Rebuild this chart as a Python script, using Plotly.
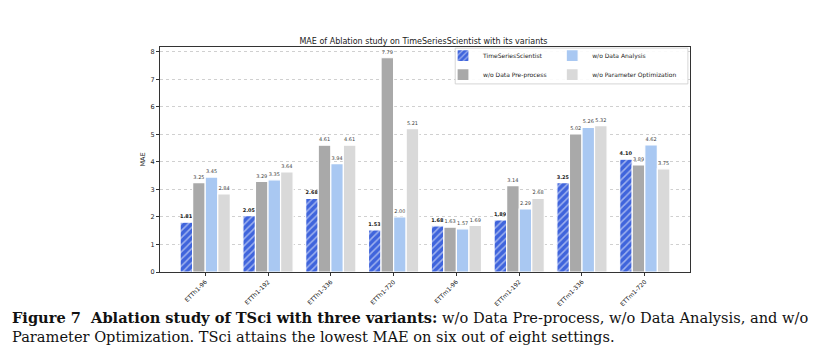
import plotly.graph_objects as go

categories = ["ETTh1-96", "ETTh1-192", "ETTh1-336", "ETTh1-720",
              "ETTm1-96", "ETTm1-192", "ETTm1-336", "ETTm1-720"]
tsci = [1.81, 2.05, 2.68, 1.53, 1.68, 1.89, 3.25, 4.10]
wo_preprocess = [3.25, 3.29, 4.61, 7.79, 1.63, 3.14, 5.02, 3.89]
wo_analysis = [3.45, 3.35, 3.94, 2.00, 1.57, 2.29, 5.26, 4.62]
wo_paramopt = [2.84, 3.64, 4.61, 5.21, 1.69, 2.68, 5.32, 3.75]
y_ticks = [0, 1, 2, 3, 4, 5, 6, 7, 8]

series = [
    ("TimeSeriesScientist", tsci, "#3f64dc", True, "legend"),
    ("w/o Data Pre-process", wo_preprocess, "#a9a9a9", False, "legend"),
    ("w/o Data Analysis", wo_analysis, "#a9c8f2", False, "legend2"),
    ("w/o Parameter Optimization", wo_paramopt, "#d9d9d9", False, "legend2"),
]

# layout geometry (plot area)
L, T, PW, PH = 152, 39, 530, 225
W, H = 831, 359

fig = go.Figure()
for name, vals, color, hatch, leg in series:
    marker = dict(color=color, line=dict(color="white", width=1.2))
    if hatch:
        marker["pattern"] = dict(shape="/", fgcolor="white", bgcolor=color,
                                 size=5, solidity=0.3)
    fig.add_trace(go.Bar(
        x=categories, y=vals, name=name, marker=marker,
        text=vals,
        texttemplate="<b>%{y:.2f}</b>" if hatch else "%{y:.2f}",
        textposition="outside", constraintext="none", cliponaxis=False,
        textfont=dict(size=5, color="#222" if hatch else "#444"),
        legend=leg,
    ))

leg_common = dict(orientation="v", yanchor="top", y=1.026, xanchor="left",
                  bgcolor="rgba(0,0,0,0)", borderwidth=0,
                  font=dict(size=6, color="#222"), itemwidth=30,
                  tracegroupgap=0)
fig.update_layout(
    width=W, height=H,
    margin=dict(l=L, r=W - L - PW, t=T, b=H - T - PH, autoexpand=False),
    paper_bgcolor="white", plot_bgcolor="white",
    barmode="group", bargap=0.2, bargroupgap=0,
    font=dict(family="DejaVu Sans", color="#222"),
    title=dict(text="MAE of Ablation study on TimeSeriesScientist with its variants",
               x=0.5, xanchor="center", y=1 - 33 / 359, yanchor="middle",
               font=dict(size=8, color="#222")),
    legend=dict(x=0.534, **leg_common),
    legend2=dict(x=0.740, **leg_common),
    showlegend=True,
)
fig.add_shape(type="rect", xref="paper", yref="paper",
              x0=0.557, x1=0.996, y0=0.836, y1=0.995, layer="above",
              fillcolor="rgba(255,255,255,0.9)", line=dict(color="#cccccc", width=0.8))
fig.update_xaxes(range=[-0.72, 7.72], tickangle=-45, tickfont=dict(size=6),
                 showline=True, linecolor="#333", linewidth=1.2, mirror=True,
                 ticks="outside", ticklen=3, tickcolor="#333", showgrid=False)
fig.update_yaxes(range=[0, 8.18], tickvals=y_ticks, tickfont=dict(size=6.5),
                 title=dict(text="MAE", font=dict(size=6.5), standoff=4),
                 showline=True, linecolor="#333", linewidth=1.2, mirror=True,
                 ticks="outside", ticklen=3, tickcolor="#333",
                 showgrid=True, gridcolor="#d0d0d0", griddash="dot", gridwidth=0.7,
                 zeroline=False)

cap1 = ("<b>Figure 7  Ablation study of TSci with three variants:</b> "
        "w/o Data Pre-process, w/o Data Analysis, and w/o")
cap2 = "Parameter Optimization. TSci attains the lowest MAE on six out of eight settings."
for txt, yy in [(cap1, 309), (cap2, 329)]:
    fig.add_annotation(text=txt, xref="paper", yref="paper",
                       x=(2 - L) / PW, xanchor="left",
                       y=(T + PH - yy) / PH, yanchor="middle", showarrow=False,
                       font=dict(family="DejaVu Serif", size=14.6, color="#111"))

fig.write_html("out.html")
